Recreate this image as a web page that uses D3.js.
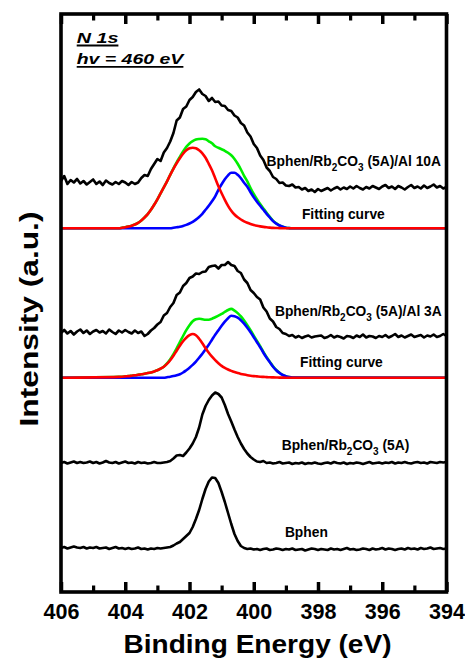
<!DOCTYPE html>
<html>
<head>
<meta charset="utf-8">
<script src="https://cdn.jsdelivr.net/npm/d3@7"></script>
<style>
  html, body { margin: 0; padding: 0; background: #fff; }
  svg { display: block; }
  text { font-family: "Liberation Sans", Arial, Helvetica, sans-serif; font-weight: bold; fill: #000; }
</style>
</head>
<body>
<svg id="chart" width="465" height="658"></svg>
<script>
// N 1s core-level spectra, sampled every 0.1 eV from 406 eV down to 394 eV.
// Intensities are relative to each trace's own baseline (arbitrary units).
const energyStart = 406;
const energyStep = 0.1;

const bphen = [
  1.5, 2.5, 1.0, 2.0, 3.0, 2.0, 1.5, 2.5, 1.0, 2.0, 1.5,
  2.5, 1.0, 1.5, 2.0, 0.5, 1.5, 2.5, 1.0, 1.5, 0.5,
  1.5, 0.5, 1.0, 2.0, 0.5, 1.0, 0.0, 1.0, 0.5, 1.5,
  1.0, 1.5, 2.0, 2.5, 4.0, 6.0, 7.5, 10.5, 13.5, 16.5,
  22.5, 30.5, 39.5, 50.5, 60.5, 68.0, 72.0, 71.5, 66.5, 57.5,
  47.5, 36.5, 25.5, 15.5, 8.5, 3.5, 1.5, 0.5, 1.0, 0.0,
  0.5, -0.5, 0.5, 1.0, -0.5, 0.0, 1.0, 0.5, -0.5, 0.5,
  0.0, 1.0, -0.5, 0.0, 0.5, -1.0, 0.0, 1.0, 0.5, -0.5,
  0.5, 0.0, -0.5, 1.0, 0.0, 0.5, -0.5, 0.5, 1.5, 0.0,
  0.5, -0.5, 0.0, 1.0, 0.5, -0.5, 1.0, 0.0, 0.5, 1.5,
  0.0, 1.0, 0.5, -0.5, 0.5, 1.0, 0.0, 1.5, 0.5, 1.0,
  0.0, 1.5, 0.5, 1.0, 2.0, 0.5, 1.0, 1.5, 0.5, 1.0
];

const bphenRb = [
  0.5, 1.5, 0.0, 1.0, 2.0, 0.5, 1.5, 0.5, 1.0, 2.0, 0.5,
  1.5, 0.0, 1.0, 2.5, 1.0, 0.5, 1.5, 0.0, 1.0, 2.0,
  0.5, 1.0, 0.0, 1.5, 0.5, 1.0, 0.0, 0.5, 1.5, 0.5,
  0.5, 1.0, 1.5, 2.5, 5.0, 8.0, 8.5, 7.5, 11.0, 15.0,
  20.0, 26.5, 36.0, 49.0, 57.5, 63.5, 68.0, 71.0, 69.5, 66.0,
  58.5, 49.5, 42.0, 34.0, 26.5, 20.0, 14.5, 10.0, 6.5, 4.0,
  2.0, 1.5, 2.5, 0.5, 1.0, 0.0, 0.5, 1.5, 0.0, 0.5,
  1.0, -0.5, 0.5, 0.0, 1.0, -0.5, 0.5, 0.0, 1.0, 0.0,
  -0.5, 0.5, 1.0, 0.0, 1.5, 0.5, 0.0, 1.0, -0.5, 0.5,
  0.0, 1.0, 0.5, -0.5, 0.5, 1.5, 0.0, 0.5, 1.0, 0.0,
  1.0, 0.5, 1.5, 0.0, 1.0, 0.5, 1.5, 0.5, 0.0, 1.0,
  1.5, 0.5, 1.0, 0.0, 1.5, 1.0, 0.5, 1.5, 1.0, 1.5
];

const bphenRbAl3 = [
  4.0, 7.0, 3.5, 6.0, 2.5, 5.5, 7.5, 4.0, 6.5, 3.0, 5.5,
  7.0, 4.5, 6.0, 3.5, 7.5, 5.0, 3.0, 6.5, 4.5, 7.0,
  5.0, 3.5, 6.5, 4.0, 5.5, 1.0, 3.0, 6.5, 9.0, 12.5,
  15.0, 21.5, 24.0, 30.0, 34.0, 42.0, 44.5, 51.0, 54.0, 59.0,
  60.5, 63.5, 63.0, 65.0, 65.5, 70.0, 71.0, 71.5, 68.5, 72.0,
  72.0, 75.0, 72.0, 71.0, 66.0, 64.0, 57.5, 54.0, 47.0, 44.0,
  40.0, 37.5, 29.5, 25.5, 18.5, 15.5, 10.0, 8.0, 4.0, 3.0,
  1.0, 2.0, -0.5, 1.0, -1.0, 0.5, 1.5, -0.5, 0.5, 1.0,
  1.5, -1.0, 0.0, 2.0, -0.5, 1.0, 0.0, -1.5, 1.0, 0.5,
  -1.0, 1.5, 0.0, 2.5, -0.5, 1.0, 0.5, -1.0, 1.0, 0.0,
  2.0, -0.5, 1.0, 3.0, 0.0, 1.5, -0.5, 1.0, 2.5, 0.0,
  1.0, 2.0, -0.5, 1.5, 0.5, 2.5, 0.0, 1.0, 3.0, 1.0
];

const bphenRbAl10 = [
  9.0, 14.0, 6.0, 10.0, 7.5, 11.0, 6.5, 9.0, 5.5, 8.0, 10.5,
  6.0, 8.5, 5.0, 9.5, 7.0, 5.5, 8.0, 6.0, 9.0, 7.5,
  5.0, 8.0, 6.0, 7.5, 12.0, 15.0, 14.0, 21.0, 26.0, 31.0,
  29.0, 37.5, 42.0, 48.5, 57.0, 69.5, 72.5, 81.0, 83.5, 90.0,
  93.0, 98.0, 100.5, 96.0, 94.0, 89.0, 92.0, 88.0, 88.5, 84.5,
  84.0, 80.0, 79.0, 74.5, 72.5, 67.0, 64.5, 57.5, 53.5, 46.0,
  42.0, 34.5, 30.0, 22.5, 19.0, 13.0, 11.0, 7.0, 7.5, 4.5,
  4.0, 5.5, 2.5, 3.0, 0.5, 2.0, -1.0, 0.5, -2.0, 1.0,
  -1.0, 0.5, 2.0, -0.5, 1.5, 3.0, 0.5, 2.5, 1.0, 3.5,
  1.5, 4.0, 2.0, 0.5, 3.0, 1.5, 4.0, 2.5, 1.0, 3.5,
  5.0, 2.0, 3.5, 1.0, 4.0, 2.5, 0.5, 3.0, 5.0, 2.0,
  3.5, 1.5, 4.5, 2.0, 3.5, 5.5, 2.5, 4.0, 1.5, 3.0
];

// Vertical stacking of the measured traces (bottom to top)
const spectrumOffsets = [42.5, 128.5, 255, 402];

// Peak-fit components, on their own energy grid
const fitEnergies = [
  406,
  404.2, 404.1, 404.0, 403.9, 403.8, 403.7, 403.6, 403.5, 403.4, 403.3,
  403.2, 403.1, 403.0, 402.9, 402.8, 402.7, 402.6, 402.5, 402.4, 402.3,
  402.2, 402.1, 402.0, 401.9, 401.8, 401.7, 401.6, 401.5, 401.4, 401.3,
  401.2, 401.1, 401.0, 400.9, 400.8, 400.7, 400.6, 400.5, 400.4, 400.3,
  400.2, 400.1, 400.0, 399.9, 399.8, 399.7, 399.6, 399.5, 399.4, 399.3,
  399.2, 399.1, 399.0, 398.9, 398.8,
  394
];

const al3Red = [
  0,
  0.8, 1.0, 1.3, 1.6, 2.0, 2.4, 2.9, 3.4, 4.0, 4.6,
  5.3, 6.2, 7.4, 9.0, 11.0, 13.8, 17.5, 22, 27, 32,
  36.5, 40, 42.5, 43.7, 42.5, 39, 34.5, 29.5, 25, 21,
  17.5, 14.5, 11.8, 9.8, 8.2, 6.8, 5.6, 4.6, 3.8, 3.1,
  2.5, 2.0, 1.6, 1.3, 1.0, 0.8, 0.6, 0.45, 0.3, 0.2,
  0.1, 0.05, 0, 0, 0,
  0
];
const al3Blue = [
  0,
  0, 0, 0, 0, 0, 0, 0, 0, 0, 0,
  0, 0, 0, 0, 0, 0.5, 1, 1.6, 2.4, 3.5,
  5.2, 7.5, 10, 12.8, 16, 20, 24, 28.5, 33, 38,
  43, 47.5, 52, 56, 59.5, 62, 61.5, 60, 57.5, 54,
  50, 45.5, 40.5, 35.5, 30.5, 25, 20, 15.5, 11, 7.5,
  4.8, 2.7, 1.4, 0.6, 0.2,
  0
];
const al3Total = [
  0,
  0.8, 1.0, 1.3, 1.6, 2.0, 2.4, 2.9, 3.4, 4.0, 4.6,
  5.3, 6.2, 7.4, 9.0, 11.0, 14.3, 18.5, 23.6, 29.4, 35.5,
  41.7, 47.5, 52.5, 56.5, 58.5, 59, 58.5, 58, 58, 59,
  60.5, 62, 63.8, 65.8, 67.7, 68.8, 67.1, 64.6, 61.3, 57.1,
  52.5, 47.5, 42.1, 36.8, 31.5, 25.8, 20.6, 15.95, 11.3, 7.7,
  4.9, 2.75, 1.4, 0.6, 0.2,
  0
];

const al10Red = [
  0,
  0, 0.5, 1, 1.7, 2.6, 3.8, 5.5, 7.8, 10.8, 14.2,
  18.5, 23.5, 29, 35, 41, 47, 53.5, 59.5, 65, 70,
  74.5, 78, 80, 80.6, 80, 78, 75, 70.5, 64.5, 58,
  50, 42, 35, 28.5, 22.5, 17.5, 13.8, 11, 8.8, 7,
  5.5, 4.3, 3.3, 2.5, 1.9, 1.4, 1.0, 0.7, 0.45, 0.3,
  0.15, 0.05, 0, 0, 0,
  0
];
const al10Blue = [
  0,
  0, 0, 0, 0, 0, 0, 0, 0, 0, 0,
  0, 0, 0, 0, 0, 0, 0, 0.5, 1, 1.5,
  2.3, 3.4, 4.8, 6.5, 8.7, 11.3, 14.5, 18.5, 22.5, 27,
  32, 38.5, 44, 49, 53, 55.5, 55.5, 53.5, 50, 45.5,
  41.5, 36, 31, 26.5, 22.5, 18.5, 14.5, 10.8, 7.2, 4.7,
  2.8, 1.5, 0.6, 0.2, 0,
  0
];
const al10Total = [
  0,
  0, 0.5, 1, 1.7, 2.6, 3.8, 5.5, 7.8, 10.8, 14.2,
  18.5, 23.5, 29, 35, 41, 47, 53.5, 60, 66, 71.5,
  76.8, 81.4, 84.8, 87.1, 88.7, 89.3, 89.5, 89, 87, 85,
  82, 80.5, 79, 77.5, 75.5, 73, 69.3, 64.5, 58.8, 52.5,
  47, 40.3, 34.3, 29, 24.4, 19.9, 15.5, 11.5, 7.65, 5,
  2.95, 1.55, 0.6, 0.2, 0,
  0
];

// Baselines of the two fitted stacks (Al 3A, Al 10A)
const fitOffsets = [214.3, 363.7];

const majorTicks = [406, 404, 402, 400, 398, 396, 394];
const minorTicks = [405, 403, 401, 399, 397, 395];

// ---------------------------------------------------------------
const svg = d3.select("#chart");
const frame = { left: 61, right: 446.5, top: 14, bottom: 592 };

const x = d3.scaleLinear().domain([406, 394]).range([frame.left, frame.right]);
const y = d3.scaleLinear().domain([0, frame.bottom - frame.top]).range([frame.bottom, frame.top]);

const spectrumPath = (values, offset) =>
  d3.line()
    .x((d, i) => x(energyStart - i * energyStep))
    .y(d => y(d + offset))(values);

const fitPath = (values, offset) =>
  d3.line()
    .x((d, i) => x(fitEnergies[i]))
    .y(d => y(d + offset))
    .curve(d3.curveMonotoneX)(values);

const plot = svg.append("g");

// fitted components: envelope first, then components on top
[[al3Total, al3Blue, al3Red, fitOffsets[0]], [al10Total, al10Blue, al10Red, fitOffsets[1]]]
  .forEach(([total, blue, red, off]) => {
    [[total, "#00ee00"], [blue, "#0000ff"], [red, "#ff0000"]].forEach(([vals, color]) => {
      plot.append("path")
        .attr("d", fitPath(vals, off))
        .attr("fill", "none")
        .attr("stroke", color)
        .attr("stroke-width", 2.6)
        .attr("stroke-linejoin", "round");
    });
  });

// measured traces
[bphen, bphenRb, bphenRbAl3, bphenRbAl10].forEach((vals, k) => {
  plot.append("path")
    .attr("d", spectrumPath(vals, spectrumOffsets[k]))
    .attr("fill", "none")
    .attr("stroke", "#000")
    .attr("stroke-width", 2.6)
    .attr("stroke-linejoin", "round");
});

// axes: inward ticks on bottom and top
function styleTicks(g, width) {
  g.select(".domain").remove();
  g.selectAll(".tick line").attr("stroke", "#000").attr("stroke-width", width);
}
const bottomMajor = svg.append("g")
  .attr("transform", `translate(0,${frame.bottom})`)
  .call(d3.axisBottom(x).tickValues(majorTicks).tickSizeInner(-10).tickSizeOuter(0)
        .tickPadding(12.2).tickFormat(d3.format("d")));
styleTicks(bottomMajor, 3.5);
bottomMajor.selectAll(".tick text")
  .attr("font-size", 21.5)
  .attr("font-family", "Liberation Sans, Arial, sans-serif")
  .attr("font-weight", "bold")
  .attr("fill", "#000");

const bottomMinor = svg.append("g")
  .attr("transform", `translate(0,${frame.bottom})`)
  .call(d3.axisBottom(x).tickValues(minorTicks).tickSizeInner(-6.5).tickSizeOuter(0).tickFormat(""));
styleTicks(bottomMinor, 3.2);

const topMajor = svg.append("g")
  .attr("transform", `translate(0,${frame.top})`)
  .call(d3.axisTop(x).tickValues(majorTicks).tickSizeInner(-10).tickSizeOuter(0).tickFormat(""));
styleTicks(topMajor, 3.5);
const topMinor = svg.append("g")
  .attr("transform", `translate(0,${frame.top})`)
  .call(d3.axisTop(x).tickValues(minorTicks).tickSizeInner(-6.5).tickSizeOuter(0).tickFormat(""));
styleTicks(topMinor, 3.2);

// plot frame
svg.append("rect")
  .attr("x", frame.left).attr("y", frame.top)
  .attr("width", frame.right - frame.left).attr("height", frame.bottom - frame.top)
  .attr("fill", "none").attr("stroke", "#000").attr("stroke-width", 3.6);

// axis titles
svg.append("text")
  .attr("x", 257.5).attr("y", 653.3)
  .attr("text-anchor", "middle")
  .attr("font-size", 25.5)
  .attr("textLength", 268).attr("lengthAdjust", "spacingAndGlyphs")
  .text("Binding Energy (eV)");

svg.append("text")
  .attr("transform", "translate(37.5,319) rotate(-90)")
  .attr("text-anchor", "middle")
  .attr("font-size", 26)
  .attr("textLength", 215).attr("lengthAdjust", "spacingAndGlyphs")
  .text("Intensity (a.u.)");

// core level / photon energy header, underlined
[["N 1s", 42.7, 41.7], ["hv = 460 eV", 64, 106.7]].forEach(([txt, base, len]) => {
  svg.append("text")
    .attr("x", 76.7).attr("y", base)
    .attr("font-size", 15)
    .attr("font-style", "italic")
    .attr("textLength", len).attr("lengthAdjust", "spacingAndGlyphs")
    .text(txt);
  svg.append("line")
    .attr("x1", 76.7).attr("x2", 76.7 + len)
    .attr("y1", base + 2.8).attr("y2", base + 2.8)
    .attr("stroke", "#000").attr("stroke-width", 1.8);
});

// trace labels (energy position, height above the plot bottom);
// subscripts drop 5px and the following run rises back
function traceLabel(E, v, parts) {
  const t = svg.append("text")
    .attr("x", x(E)).attr("y", y(v))
    .attr("font-size", 13.8);
  let shifted = false;
  parts.forEach(p => {
    const span = t.append("tspan");
    if (typeof p === "object") {
      span.attr("dy", shifted ? 0 : 5).attr("font-size", 10).text(p.subscript);
      shifted = true;
    } else {
      if (shifted) span.attr("dy", -5);
      span.text(p);
      shifted = false;
    }
  });
  return t;
}
const rbParts = ["Bphen/Rb", { subscript: "2" }, "CO", { subscript: "3" }];

traceLabel(399.6, 426.3, [...rbParts, "\u00a0(5A)/Al 10A"]);
traceLabel(398.5, 373, ["Fitting curve"]);
traceLabel(399.34, 276, [...rbParts, "\u00a0(5A)/Al 3A"]);
traceLabel(398.56, 225.3, ["Fitting curve"]);
traceLabel(399.13, 142, [...rbParts, "\u00a0(5A)"]);
traceLabel(399.03, 54.7, ["Bphen"]);
</script>
</body>
</html>
